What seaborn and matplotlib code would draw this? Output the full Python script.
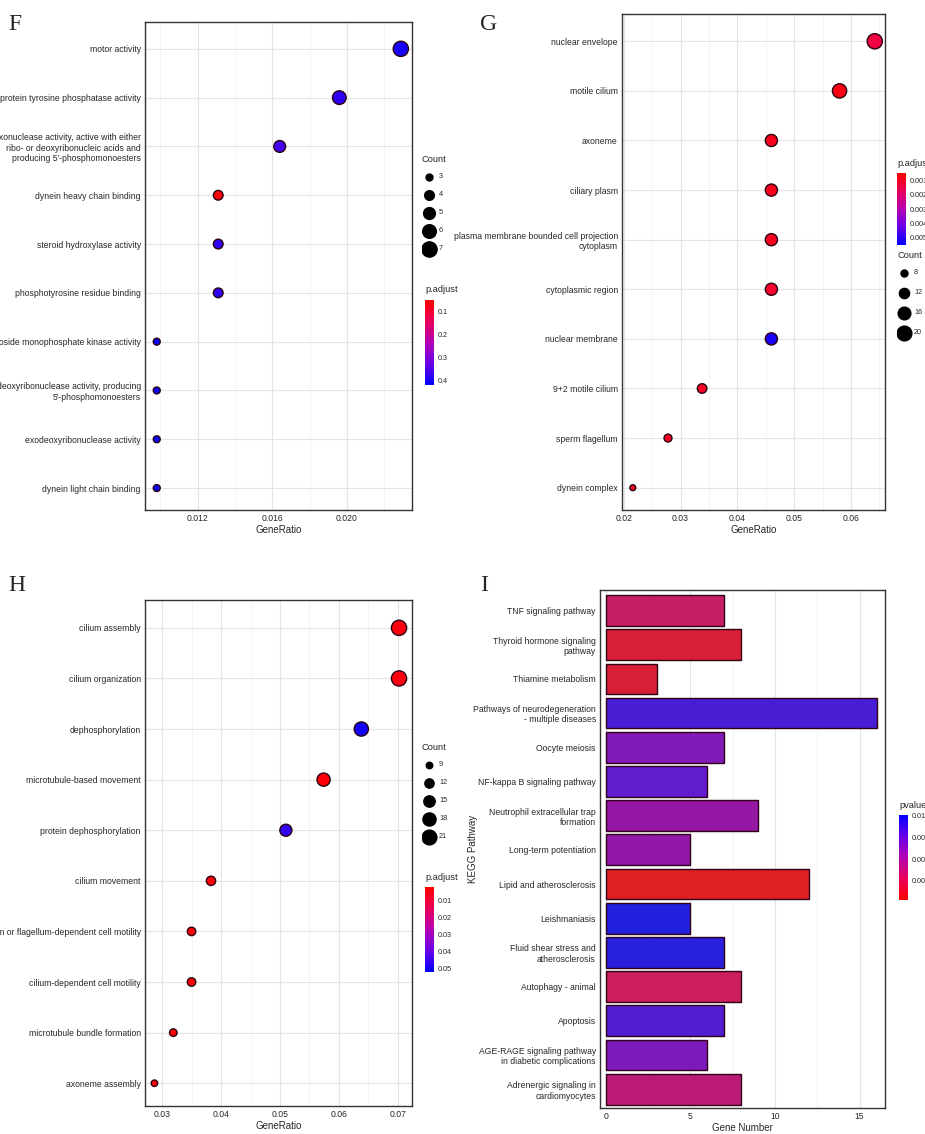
import numpy as np
import pandas as pd
import matplotlib
matplotlib.use('Agg')
import matplotlib.pyplot as plt
from matplotlib.colors import LinearSegmentedColormap, Normalize
import matplotlib.colorbar as mcolorbar
import seaborn as sns

sns.set_style('white')
plt.rcParams['font.family'] = ['Liberation Sans', 'DejaVu Sans']

# panel F
f_terms = ['motor activity', 'protein tyrosine phosphatase activity',
           'exonuclease activity, active with either\nribo- or deoxyribonucleic acids and\nproducing 5\'-phosphomonoesters',
           'dynein heavy chain binding', 'steroid hydroxylase activity', 'phosphotyrosine residue binding',
           'nucleoside monophosphate kinase activity',
           'exodeoxyribonuclease activity, producing\n5\'-phosphomonoesters',
           'exodeoxyribonuclease activity', 'dynein light chain binding']
f_ratio = [0.0229, 0.0196, 0.0164, 0.0131, 0.0131, 0.0131, 0.0098, 0.0098, 0.0098, 0.0098]
f_count = [7, 6, 5, 4, 4, 4, 3, 3, 3, 3]
f_padj = [0.40, 0.38, 0.36, 0.06, 0.38, 0.38, 0.41, 0.41, 0.41, 0.41]

# panel G
g_terms = ['nuclear envelope', 'motile cilium', 'axoneme', 'ciliary plasm',
           'plasma membrane bounded cell projection\ncytoplasm', 'cytoplasmic region',
           'nuclear membrane', '9+2 motile cilium', 'sperm flagellum', 'dynein complex']
g_ratio = [0.0642, 0.0580, 0.0460, 0.0460, 0.0460, 0.0460, 0.0460, 0.0338, 0.0278, 0.0216]
g_count = [21, 19, 15, 15, 15, 15, 15, 11, 9, 7]
g_padj = [0.0014, 0.0008, 0.0009, 0.0009, 0.0009, 0.0011, 0.0052, 0.0010, 0.0010, 0.0010]

# panel H
h_terms = ['cilium assembly', 'cilium organization', 'dephosphorylation', 'microtubule-based movement',
           'protein dephosphorylation', 'cilium movement', 'cilium or flagellum-dependent cell motility',
           'cilium-dependent cell motility', 'microtubule bundle formation', 'axoneme assembly']
h_ratio = [0.0702, 0.0702, 0.0638, 0.0574, 0.0510, 0.0383, 0.0350, 0.0350, 0.0319, 0.0287]
h_count = [22, 22, 20, 18, 16, 12, 11, 11, 10, 9]
h_padj = [0.004, 0.004, 0.050, 0.003, 0.046, 0.003, 0.003, 0.003, 0.003, 0.003]

# panel I
i_terms = ['TNF signaling pathway', 'Thyroid hormone signaling\npathway', 'Thiamine metabolism',
           'Pathways of neurodegeneration\n- multiple diseases', 'Oocyte meiosis',
           'NF-kappa B signaling pathway', 'Neutrophil extracellular trap\nformation',
           'Long-term potentiation', 'Lipid and atherosclerosis', 'Leishmaniasis',
           'Fluid shear stress and\natherosclerosis', 'Autophagy - animal', 'Apoptosis',
           'AGE-RAGE signaling pathway\nin diabetic complications',
           'Adrenergic signaling in\ncardiomyocytes']
i_genes = [7, 8, 3, 16, 7, 6, 9, 5, 12, 5, 7, 8, 7, 6, 8]
i_pval = [0.0030, 0.0012, 0.0012, 0.0088, 0.0066, 0.0080, 0.0056, 0.0058, 0.0004, 0.0100, 0.0098,
          0.0026, 0.0085, 0.0068, 0.0036]

cmap = LinearSegmentedColormap.from_list('rb', ['#ff0000', '#e8005a', '#b400b4', '#6a00e6', '#0000ff'])
W, H = 925, 1134
FS = 6.2

fig = plt.figure(figsize=(9.25, 11.34), dpi=100)


def px_axes(l, t, r, b):
    return fig.add_axes([l / W, 1 - b / H, (r - l) / W, (b - t) / H])


def style(ax):
    for s in ax.spines.values():
        s.set_color('#333333')
        s.set_linewidth(1.0)
    ax.tick_params(axis='both', labelsize=FS, length=2, color='#333333', pad=1)


def dot_panel(rect, terms, ratio, count, padj, norm, smin, smax, xlim, xticks, fmt):
    ax = px_axes(*rect)
    n = len(terms)
    df = pd.DataFrame({'term': terms, 'ratio': ratio, 'count': count, 'padj': padj,
                       'y': np.arange(n)[::-1]})
    for t in xticks:
        ax.axvline(t, color='#e4e4e4', lw=0.8, zorder=0)
    step = xticks[1] - xticks[0]
    for t in np.arange(xticks[0] - step / 2, xticks[-1] + step, step):
        ax.axvline(t, color='#f0f0f0', lw=0.5, zorder=0)
    for y in range(n):
        ax.axhline(y, color='#e4e4e4', lw=0.8, zorder=0)
    sns.scatterplot(data=df, x='ratio', y='y', hue='padj', hue_norm=norm, palette=cmap,
                    size='count', sizes=(smin, smax), size_norm=(min(count), max(count)),
                    edgecolor='#2a0010', linewidth=1.0, legend=False, ax=ax, zorder=3)
    ax.set_xlim(*xlim)
    ax.set_ylim(-0.45, n - 0.45)
    ax.set_yticks(range(n))
    ax.set_yticklabels(terms[::-1])
    ax.set_xticks(xticks)
    ax.set_xticklabels([fmt.format(t) for t in xticks])
    ax.set_xlabel('GeneRatio', fontsize=FS + 0.8, labelpad=1)
    ax.set_ylabel('')
    style(ax)
    return ax


def size_legend(x, y0, vals, step, smin, smax, cmin, cmax):
    fig.text(x / W, 1 - y0 / H, 'Count', fontsize=FS + 0.5, va='center')
    lax = px_axes(x, y0 + 8, x + 30, y0 + 8 + step * len(vals))
    lax.set_xlim(0, 30)
    lax.set_ylim(len(vals), 0)
    lax.axis('off')
    for k, v in enumerate(vals):
        s = smin + (v - cmin) / (cmax - cmin) * (smax - smin)
        lax.scatter([7], [k + 0.5], s=s, color='black')
        lax.text(17, k + 0.5, str(v), fontsize=FS - 1, va='center')


def color_legend(x, y0, title, vmin, vmax, ticks, labels, invert, height=85):
    fig.text(x / W, 1 - y0 / H, title, fontsize=FS + 0.5, va='center')
    cax = px_axes(x, y0 + 10, x + 9, y0 + 10 + height)
    cb = mcolorbar.ColorbarBase(cax, cmap=cmap, norm=Normalize(vmin, vmax), orientation='vertical')
    cb.set_ticks(ticks)
    cb.set_ticklabels(labels)
    cb.outline.set_visible(False)
    cax.tick_params(labelsize=FS - 1, length=2, color='white', pad=1)
    if invert:
        cax.invert_yaxis()


# F
dot_panel((145, 22, 412, 510), f_terms, f_ratio, f_count, f_padj, (0.05, 0.42), 25, 120,
          (0.00917, 0.0235), [0.012, 0.016, 0.020], '{:.3f}')
size_legend(422, 160, [3, 4, 5, 6, 7], 18, 25, 120, 3, 7)
color_legend(425, 290, 'p.adjust', 0.05, 0.42, [0.1, 0.2, 0.3, 0.4], ['0.1', '0.2', '0.3', '0.4'], True)

# G
dot_panel((622, 14, 885, 510), g_terms, g_ratio, g_count, g_padj, (0.0005, 0.0055), 18, 120,
          (0.0197, 0.066), [0.02, 0.03, 0.04, 0.05, 0.06], '{:.2f}')
color_legend(897, 163, 'p.adjust', 0.0005, 0.0055, [0.001, 0.002, 0.003, 0.004, 0.005],
             ['0.001', '0.002', '0.003', '0.004', '0.005'], True, height=72)
size_legend(897, 255, [8, 12, 16, 20], 20, 18, 120, 7, 21)

# H
dot_panel((145, 600, 412, 1106), h_terms, h_ratio, h_count, h_padj, (0.002, 0.052), 22, 120,
          (0.0271, 0.0724), [0.03, 0.04, 0.05, 0.06, 0.07], '{:.2f}')
size_legend(422, 748, [9, 12, 15, 18, 21], 18, 22, 120, 9, 22)
color_legend(425, 877, 'p.adjust', 0.002, 0.052, [0.01, 0.02, 0.03, 0.04, 0.05],
             ['0.01', '0.02', '0.03', '0.04', '0.05'], True)

# I
ax = px_axes(600, 590, 885, 1108)
idf = pd.DataFrame({'term': i_terms, 'genes': i_genes, 'pval': i_pval})
for t in [0, 5, 10, 15]:
    ax.axvline(t, color='#e4e4e4', lw=0.8, zorder=0)
for t in [2.5, 7.5, 12.5]:
    ax.axvline(t, color='#f0f0f0', lw=0.5, zorder=0)
norm_i = Normalize(0.0003, 0.0101)
bar_colors = [cmap(norm_i(p)) for p in i_pval]
sns.barplot(data=idf, x='genes', y='term', hue='term', palette=bar_colors, orient='h',
            width=0.9, edgecolor='#300018', linewidth=1.0, legend=False, ax=ax, zorder=2)
ax.set_xlim(-0.35, 16.5)
ax.set_ylim(len(i_terms) - 0.45, -0.6)
ax.set_xticks([0, 5, 10, 15])
ax.set_xlabel('Gene Number', fontsize=FS + 0.8, labelpad=1)
ax.set_ylabel('KEGG Pathway', fontsize=FS + 0.8)
ax.yaxis.set_label_coords((478 - 600) / 285, 0.5)
style(ax)
color_legend(899, 805, 'pvalue', 0.0003, 0.0101, [0.0025, 0.005, 0.0075, 0.01],
             ['0.0025', '0.0050', '0.0075', '0.0100'], False)

for lab, x, y in [('F', 8, 25), ('G', 480, 25), ('H', 8, 585), ('I', 480, 585)]:
    fig.text(x / W, 1 - y / H, lab, fontsize=17, family='Liberation Serif', va='center')

fig.savefig('out.png', dpi=100)
